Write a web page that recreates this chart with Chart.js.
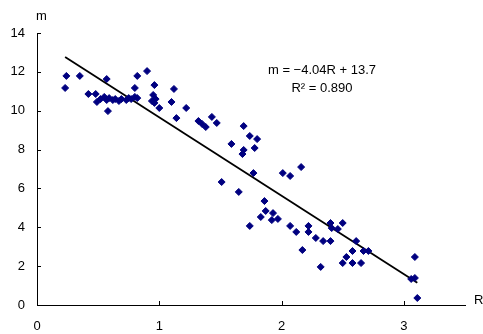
<!DOCTYPE html>
<html>
<head>
<meta charset="utf-8">
<script src="https://cdn.jsdelivr.net/npm/chart.js@4/dist/chart.umd.min.js"></script>
<style>
  html, body { margin: 0; padding: 0; background: #fff; }
  #wrap { width: 483px; height: 334px; }
</style>
</head>
<body>
<div id="wrap"><canvas id="scatter"></canvas></div>
<script>
const rValues = [
    0.23, 0.24, 0.35, 0.42, 0.48, 0.49, 0.57, 0.58,
    0.52, 0.55, 0.57, 0.59, 0.62, 0.64, 0.67, 0.69, 0.73, 0.75, 0.77, 0.80, 0.82,
    0.80, 0.82, 0.90, 0.96, 0.95, 0.97, 0.94, 0.96, 1.00, 1.10, 1.12, 1.22, 1.14,
    1.32, 1.35, 1.38, 1.43, 1.47, 1.69, 1.74, 1.80, 1.59, 1.78, 1.69, 1.68,
    1.77, 1.51, 1.65, 2.01, 2.07, 2.16, 1.86, 1.87, 1.93, 1.83, 1.92, 1.97,
    1.74, 2.07, 2.12, 2.22, 2.22, 2.17, 2.28, 2.34, 2.40, 2.40, 2.50, 2.41, 2.46,
    2.32, 2.61, 2.58, 2.53, 2.50, 2.58, 2.65, 2.67, 2.71, 3.09, 3.09, 3.06, 3.11
];
const mValues = [
    11.17, 11.79, 11.79, 10.86, 10.86, 10.45, 11.63, 9.98,
    10.60, 10.71, 10.55, 10.65, 10.55, 10.60, 10.50, 10.60, 10.55, 10.65, 10.60, 10.71, 10.65,
    11.17, 11.79, 12.04, 11.32, 10.81, 10.60, 10.50, 10.40, 10.14, 10.45, 11.12, 10.14, 9.62,
    9.47, 9.32, 9.16, 9.68, 9.37, 9.21, 8.70, 8.54, 8.29, 8.08, 7.98, 7.77,
    6.79, 6.33, 5.82, 6.79, 6.64, 7.10, 5.35, 4.84, 4.73, 4.53, 4.37, 4.43,
    4.07, 4.07, 3.76, 4.07, 3.76, 2.83, 3.45, 3.29, 3.29, 4.22, 4.22, 3.96, 3.91,
    1.96, 3.29, 2.78, 2.47, 2.16, 2.16, 2.16, 2.78, 2.78, 2.47, 1.39, 1.34, 0.36
];
const trendR = [0.23, 3.11];
const trendM = [12.77, 1.14];
const xTicks = [0, 1, 2, 3];
const equationLines = ["m = \u22124.04R + 13.7", "R\u00B2 = 0.890"];

const FONT = "'Liberation Sans', Arial, sans-serif";

// inner tick marks, axis titles and the trendline label
const annotations = {
    id: "annotations",
    afterDraw(chart) {
        const { ctx, scales: { x, y } } = chart;
        ctx.save();
        ctx.strokeStyle = "#000";
        ctx.lineWidth = 1;
        ctx.beginPath();
        y.ticks.forEach(t => {
            const py = Math.round(y.getPixelForValue(t.value)) + 0.5;
            ctx.moveTo(x.left, py);
            ctx.lineTo(x.left + 4, py);
        });
        x.ticks.forEach(t => {
            const px = Math.round(x.getPixelForValue(t.value)) + 0.5;
            ctx.moveTo(px, y.bottom);
            ctx.lineTo(px, y.bottom - 4);
        });
        ctx.stroke();

        ctx.fillStyle = "#000";
        ctx.font = "13px " + FONT;
        ctx.textBaseline = "middle";
        ctx.textAlign = "left";
        ctx.fillText("m", 36, 16);
        ctx.fillText("R", 474, 300);
        ctx.textAlign = "center";
        ctx.fillText(equationLines[0], 322, 70);
        ctx.fillText(equationLines[1], 322, 88);
        ctx.restore();
    }
};

new Chart(document.getElementById("scatter").getContext("2d"), {
    type: "scatter",
    data: {
        datasets: [
            {
                label: "m",
                data: rValues.map((r, i) => ({ x: r, y: mValues[i] })),
                pointStyle: "rectRot",
                radius: 3.5,
                backgroundColor: "#000080",
                borderColor: "#000080",
                borderWidth: 1,
            },
            {
                type: "line",
                label: "trend",
                data: trendR.map((r, i) => ({ x: r, y: trendM[i] })),
                borderColor: "#000",
                borderWidth: 1.8,
                pointRadius: 0,
                fill: false,
            },
        ],
    },
    options: {
        responsive: true,
        maintainAspectRatio: false,
        animation: false,
        layout: { padding: { top: 33, right: 18, left: 0, bottom: 0 } },
        plugins: { legend: { display: false }, tooltip: { enabled: false } },
        scales: {
            x: {
                type: "linear",
                min: 0,
                max: 3.5,
                afterBuildTicks: axis => { axis.ticks = xTicks.map(v => ({ value: v })); },
                afterFit: axis => { axis.height = 29; },
                grid: { display: true, drawOnChartArea: false, drawTicks: false },
                border: { color: "#000", width: 1 },
                ticks: { color: "#000", padding: 14, font: { family: FONT, size: 13 } },
            },
            y: {
                min: 0,
                max: 14,
                afterFit: axis => { axis.width = 37; },
                grid: { display: true, drawOnChartArea: false, drawTicks: false },
                border: { color: "#000", width: 1 },
                ticks: { stepSize: 2, color: "#000", padding: 12, font: { family: FONT, size: 13 } },
            },
        },
    },
    plugins: [annotations],
});
</script>
</body>
</html>
